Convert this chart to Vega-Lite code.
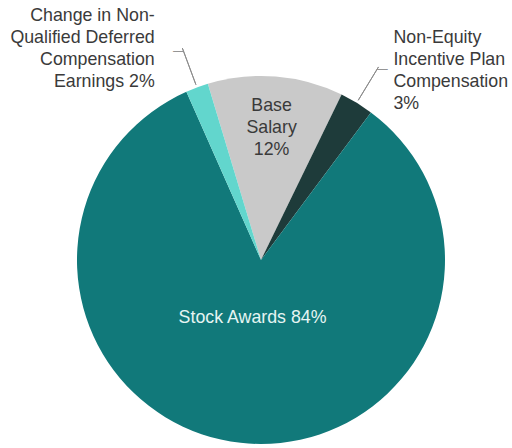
{
  "$schema": "https://vega.github.io/schema/vega-lite/v6.json",
  "width": 502,
  "height": 376,
  "autosize": "none",
  "padding": {"left": 10, "top": 72, "right": 0, "bottom": 0},
  "background": "white",
  "config": {"view": {"stroke": null}, "text": {"font": "Liberation Sans"}},
  "data": {
    "values": [
      {"idx": 1, "cat": "Base Salary", "value": 12, "label": "Base\nSalary\n12%"},
      {"idx": 2, "cat": "Non-Equity Incentive Plan Compensation", "value": 3, "label": "Non-Equity\nIncentive Plan\nCompensation\n3%"},
      {"idx": 3, "cat": "Stock Awards", "value": 84, "label": "Stock Awards 84%"},
      {"idx": 4, "cat": "Change in Non-Qualified Deferred Compensation Earnings", "value": 2, "label": "Change in Non-\nQualified Deferred\nCompensation\nEarnings 2%"}
    ]
  },
  "encoding": {
    "theta": {"field": "value", "type": "quantitative", "stack": true, "scale": {"range": [-0.293, 5.990]}},
    "order": {"field": "idx", "type": "quantitative"},
    "color": {
      "field": "cat",
      "type": "nominal",
      "scale": {
        "domain": ["Base Salary", "Non-Equity Incentive Plan Compensation", "Stock Awards", "Change in Non-Qualified Deferred Compensation Earnings"],
        "range": ["#c9c9c9", "#1e3b3a", "#11797a", "#62d6cd"]
      },
      "legend": null
    }
  },
  "layer": [
    {"mark": {"type": "arc", "outerRadius": 184}},
    {
      "mark": {"type": "arc", "innerRadius": 187, "outerRadius": 226, "padAngle": 0.6, "filled": false, "strokeWidth": 1},
      "encoding": {
        "stroke": {"value": "#8c8c8c"},
        "strokeOpacity": {"condition": {"test": "datum.value <= 3", "value": 1}, "value": 0}
      }
    },
    {
      "mark": {"type": "text", "radius": 226, "dx": 1, "dy": 2.5, "fontSize": 10, "fill": "#8c8c8c", "stroke": "#8c8c8c", "strokeWidth": 0.3, "align": "right", "baseline": "middle"},
      "encoding": {"text": {"condition": {"test": "datum.value === 2", "value": "—"}, "value": ""}}
    },
    {
      "mark": {"type": "text", "radius": 226, "dx": -1, "dy": 2.5, "fontSize": 10, "fill": "#8c8c8c", "stroke": "#8c8c8c", "strokeWidth": 0.3, "align": "left", "baseline": "middle"},
      "encoding": {"text": {"condition": {"test": "datum.value === 3", "value": "—"}, "value": ""}}
    },
    {
      "mark": {"type": "text", "radius": 132, "dy": -22, "fontSize": 17.8, "lineHeight": 22, "lineBreak": "\n", "fill": "#3a3a3a", "align": "center", "baseline": "middle"},
      "encoding": {"text": {"condition": {"test": "datum.cat === 'Base Salary'", "field": "label"}, "value": ""}}
    },
    {
      "mark": {"type": "text", "radius": 58, "dx": -2, "fontSize": 17.8, "fill": "#e6f5f3", "align": "center", "baseline": "middle"},
      "encoding": {"text": {"condition": {"test": "datum.cat === 'Stock Awards'", "field": "label"}, "value": ""}}
    },
    {
      "mark": {"type": "text", "radius": 225, "dx": -28, "dy": -33, "fontSize": 17.8, "lineHeight": 22, "lineBreak": "\n", "fill": "#3a3a3a", "align": "right", "baseline": "middle"},
      "encoding": {"text": {"condition": {"test": "datum.value === 2", "field": "label"}, "value": ""}}
    },
    {
      "mark": {"type": "text", "radius": 222, "dx": 17, "dy": -32, "fontSize": 17.8, "lineHeight": 22, "lineBreak": "\n", "fill": "#3a3a3a", "align": "left", "baseline": "middle"},
      "encoding": {"text": {"condition": {"test": "datum.value === 3", "field": "label"}, "value": ""}}
    }
  ]
}
